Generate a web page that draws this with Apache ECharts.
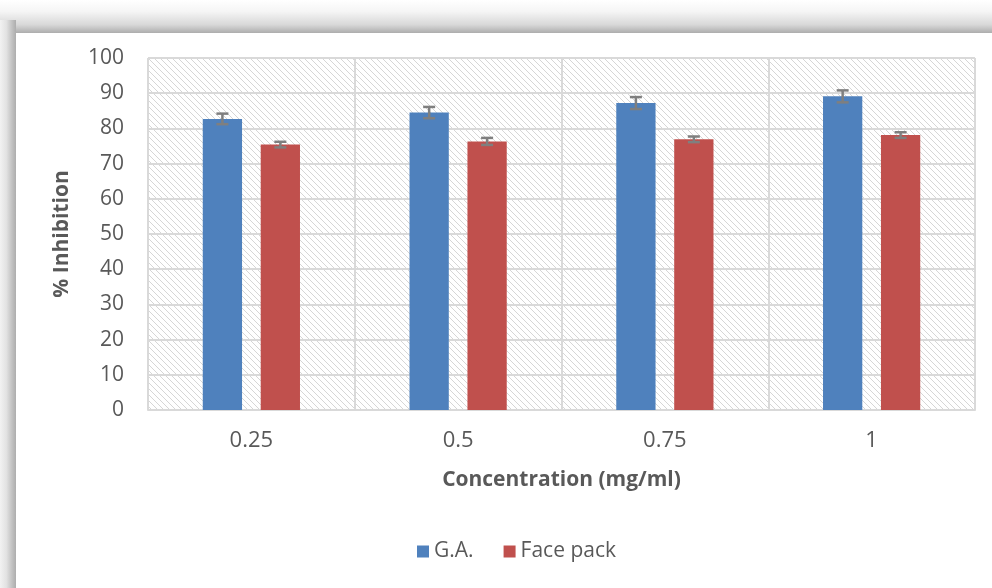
<!DOCTYPE html>
<html>
<head>
<meta charset="utf-8">
<script src="https://cdn.jsdelivr.net/npm/echarts@6/dist/echarts.min.js"></script>
<style>
html,body{margin:0;padding:0;background:#fff;}
#chart{width:992px;height:588px;}
</style>
</head>
<body>
<div id="chart"></div>
<script>
const categories = ['0.25', '0.5', '0.75', '1'];
const gaValues = [82.7, 84.5, 87.2, 89.1];
const gaErrors = [1.5, 1.6, 1.7, 1.7];
const fpValues = [75.4, 76.3, 76.9, 78.1];
const fpErrors = [0.8, 1.0, 0.8, 0.8];
const seriesNames = ['G.A.', 'Face pack'];

const BAR_W = 0.19;   // fraction of category band
const BAR_GAP = 0.475; // fraction of bar width

// hatch pattern
const tile = document.createElement('canvas');
tile.width = 6; tile.height = 6;
const tc = tile.getContext('2d');
tc.fillStyle = '#ffffff';
tc.fillRect(0, 0, 6, 6);
tc.strokeStyle = '#d6d6d6';
tc.lineWidth = 1;
tc.beginPath();
tc.moveTo(-1, -1); tc.lineTo(7, 7);
tc.moveTo(-7, -1); tc.lineTo(1, 7);
tc.moveTo(5, -1); tc.lineTo(13, 7);
tc.stroke();

const fontFam = '"Open Sans", "Noto Sans", sans-serif';

function errorSeries(values, errors, side) {
  return {
    type: 'custom',
    silent: true,
    z: 5,
    data: values.map((v, i) => [i, v, errors[i]]),
    renderItem: function (params, api) {
      const i = api.value(0);
      const v = api.value(1);
      const e = api.value(2);
      const band = api.size([1, 0])[0];
      const bw = band * BAR_W;
      const off = side * (bw + bw * BAR_GAP) / 2;
      const top = api.coord([i, v + e]);
      const bot = api.coord([i, v - e]);
      const x = top[0] + off;
      const cap = 6;
      const style = { stroke: '#7f7f7f', lineWidth: 2.5 };
      return {
        type: 'group',
        children: [
          { type: 'line', shape: { x1: x, y1: top[1], x2: x, y2: bot[1] }, style: style },
          { type: 'line', shape: { x1: x - cap, y1: top[1], x2: x + cap, y2: top[1] }, style: style },
          { type: 'line', shape: { x1: x - cap, y1: bot[1], x2: x + cap, y2: bot[1] }, style: style }
        ]
      };
    }
  };
}

const chart = echarts.init(document.getElementById('chart'), null, { renderer: 'canvas' });
chart.setOption({
  backgroundColor: '#ffffff',
  animation: false,
  graphic: [
    {
      type: 'rect', left: 0, top: 0, z: -10,
      shape: { width: 992, height: 33 },
      style: {
        fill: new echarts.graphic.LinearGradient(0, 0, 0, 1, [
          { offset: 0, color: '#ffffff' },
          { offset: 0.35, color: '#f5f5f5' },
          { offset: 0.75, color: '#d8d8d8' },
          { offset: 1, color: '#adadad' }
        ])
      }
    },
    {
      type: 'rect', left: 0, top: 20, z: -10,
      shape: { width: 16, height: 568 },
      style: {
        fill: new echarts.graphic.LinearGradient(0, 0, 1, 0, [
          { offset: 0, color: '#f2f2f2' },
          { offset: 0.4, color: '#e2e2e2' },
          { offset: 0.7, color: '#c6c6c6' },
          { offset: 1, color: '#adadad' }
        ])
      }
    }
  ],
  grid: {
    left: 148, right: 17, top: 58, bottom: 178,
    show: true,
    backgroundColor: { image: tile, repeat: 'repeat' },
    borderWidth: 0
  },
  legend: {
    data: seriesNames,
    bottom: 21,
    left: 412,
    icon: 'rect',
    itemWidth: 12,
    itemHeight: 12,
    itemGap: 30,
    textStyle: { fontFamily: fontFam, fontSize: 21, color: '#595959' }
  },
  xAxis: {
    type: 'category',
    data: categories,
    name: 'Concentration (mg/ml)',
    nameLocation: 'middle',
    nameGap: 60,
    nameTextStyle: { fontFamily: fontFam, fontSize: 21, fontWeight: 'bold', color: '#595959' },
    axisLine: { show: true, lineStyle: { color: '#d9d9d9', width: 2 } },
    axisTick: { show: false },
    axisLabel: { fontFamily: fontFam, fontSize: 22, color: '#595959', margin: 20 },
    splitLine: { show: true, lineStyle: { color: '#d9d9d9', width: 2 } }
  },
  yAxis: {
    type: 'value',
    min: 0, max: 100, interval: 10,
    name: '% Inhibition',
    nameLocation: 'middle',
    nameGap: 75,
    nameTextStyle: { fontFamily: fontFam, fontSize: 21, fontWeight: 'bold', color: '#595959' },
    axisLine: { show: false },
    axisTick: { show: false },
    axisLabel: { fontFamily: fontFam, fontSize: 21, color: '#595959', margin: 24 },
    splitLine: { show: true, lineStyle: { color: '#d9d9d9', width: 2 } }
  },
  series: [
    {
      name: seriesNames[0], type: 'bar', data: gaValues,
      barWidth: (BAR_W * 100) + '%', barGap: (BAR_GAP * 100) + '%',
      itemStyle: { color: '#4f81bd' }, z: 3
    },
    {
      name: seriesNames[1], type: 'bar', data: fpValues,
      barWidth: (BAR_W * 100) + '%', barGap: (BAR_GAP * 100) + '%',
      itemStyle: { color: '#c0504d' }, z: 3
    },
    errorSeries(gaValues, gaErrors, -1),
    errorSeries(fpValues, fpErrors, 1)
  ]
});
</script>
</body>
</html>
